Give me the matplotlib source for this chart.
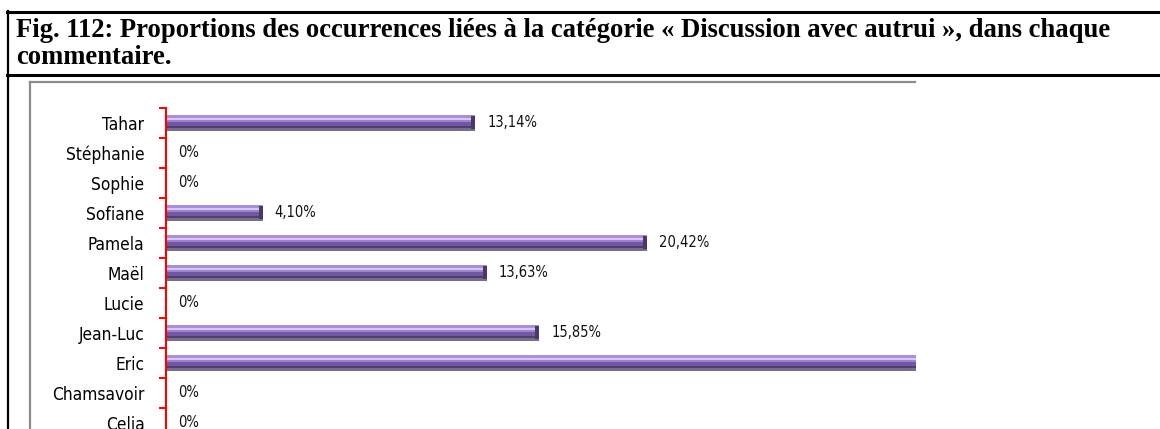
import matplotlib
matplotlib.use('Agg')
import matplotlib.pyplot as plt
from matplotlib.lines import Line2D
from matplotlib.ticker import FixedLocator

# ---------------- data ----------------
categories = ['Celia', 'Chamsavoir', 'Eric', 'Jean-Luc', 'Lucie', 'Maël',
              'Pamela', 'Sofiane', 'Sophie', 'Stéphanie', 'Tahar']
values = [0, 0, 32.86, 15.85, 0, 13.63, 20.42, 4.10, 0, 0, 13.14]
value_labels = ['0%', '0%', '32,86%', '15,85%', '0%', '13,63%', '20,42%',
                '4,10%', '0%', '0%', '13,14%']
title_lines = ['Fig. 112: Proportions des occurrences liées à la catégorie '
               '« Discussion avec autrui », dans chaque',
               'commentaire.']

# ---------------- layout helpers ----------------
W, H = 1160, 429
fig = plt.figure(figsize=(W / 100, H / 100), dpi=100)
fig.patch.set_facecolor('white')


def fx(x):
    return x / W


def fy(y):
    return 1 - y / H


narrow = ['DejaVu Sans']
serif = ['Liberation Serif', 'DejaVu Serif']

# table borders
fig.add_artist(Line2D([fx(7), 1], [fy(12), fy(12)], color='black', lw=2.2))
fig.add_artist(Line2D([fx(7), 1], [fy(75), fy(75)], color='black', lw=2.2))
fig.add_artist(Line2D([fx(8), fx(8)], [fy(11), 0], color='black', lw=1.6))
# chart-area frame (grey)
fig.add_artist(Line2D([fx(30), fx(915)], [fy(82), fy(82)], color='#8c8c8c', lw=1.6))
fig.add_artist(Line2D([fx(30), fx(30)], [fy(82), 0], color='#8c8c8c', lw=1.6))

# title text, fitted to the reference width
t1 = fig.text(fx(16), fy(37), title_lines[0], family=serif, weight='bold',
              fontsize=15, va='baseline', ha='left')
t2 = fig.text(fx(16), fy(64), title_lines[1], family=serif, weight='bold',
              fontsize=15, va='baseline', ha='left')

# ---------------- axes ----------------
px_per_unit = 23.55
ax_left, ax_right = 166, 916
top_px = 107.7
row_px = 30
n = len(categories)
bottom_px = top_px + n * row_px
ax = fig.add_axes([fx(ax_left), fy(bottom_px), fx(ax_right) - fx(ax_left),
                   (bottom_px - top_px) / H])
ax.set_xlim(0, (ax_right - ax_left) / px_per_unit)
ax.set_ylim(-0.5, n - 0.5)
ax.set_facecolor('none')

pos = list(range(n))
h = 0.52
stripes = [(0.00, 0.17, '#a98ed8'),
           (0.17, 0.31, '#d9c6f8'),
           (0.31, 0.43, '#9f83cf'),
           (0.43, 0.72, '#7058a2'),
           (0.72, 0.86, '#4f3e6e'),
           (0.86, 1.00, '#786c8f')]
for f0, f1, c in stripes:
    centers = [p + h / 2 - (f0 + f1) / 2 * h for p in pos]
    ax.barh(centers, values, height=(f1 - f0) * h, color=c, lw=0, zorder=2)

# darker end caps
cap = 4 / px_per_unit
cap_left = [v - cap if v > 0 else 0 for v in values]
cap_w = [cap if v > 0 else 0 for v in values]
ax.barh(pos, cap_w, left=cap_left, height=h * 0.86, color='#4a3968', lw=0, zorder=3)

val_texts = []
for p, v, lab in zip(pos, values, value_labels):
    a = ax.annotate(lab, (v, p), xytext=(12, 0), textcoords='offset pixels',
                    va='center', ha='left', fontsize=11, family=narrow,
                    stretch='condensed', color='#111111', annotation_clip=True)
    val_texts.append(a)

ax.set_yticks(pos)
ax.set_yticklabels(categories, family=narrow, fontsize=14, stretch='condensed')
ax.yaxis.set_minor_locator(FixedLocator([p - 0.5 for p in range(n + 1)]))
ax.tick_params(axis='y', which='major', length=0, pad=15.5, colors='black')
ax.tick_params(axis='y', which='minor', length=5, width=1.4, color='red',
               direction='out')
ax.set_xticks([])
for s in ['top', 'right', 'bottom']:
    ax.spines[s].set_visible(False)
ax.spines['left'].set_color('red')
ax.spines['left'].set_linewidth(1.5)

# fit font sizes to the widths measured on the reference
fig.canvas.draw()
r = fig.canvas.get_renderer()
w = t1.get_window_extent(renderer=r).width
fs = 15 * (1098 / w)
t1.set_fontsize(fs)
t2.set_fontsize(fs)

labs = ax.get_yticklabels()
cham = labs[categories.index('Chamsavoir')]
wc = cham.get_window_extent(renderer=r).width
tfs = 14 * (93 / wc)
for lab in labs:
    lab.set_fontsize(tfs)

ref = val_texts[value_labels.index('20,42%')]
wv = ref.get_window_extent(renderer=r).width
vfs = 11 * (50 / wv)
for a in val_texts:
    a.set_fontsize(vfs)

fig.savefig('out.png', dpi=100, facecolor='white')
